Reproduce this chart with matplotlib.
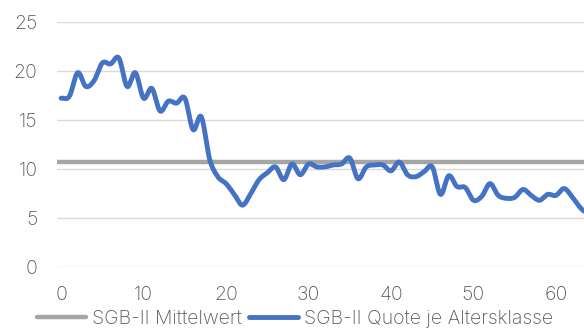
import numpy as np
import matplotlib
matplotlib.use("Agg")
import matplotlib.pyplot as plt

# SGB-II rate per age group (percent)
ages = list(range(0, 65))
quote = [17.2, 17.4, 19.8, 18.4, 19.0, 20.8, 20.7, 21.3, 18.4, 19.8,
         17.2, 18.2, 15.9, 16.9, 16.7, 17.2, 14.0, 15.3, 11.0, 9.2,
         8.5, 7.4, 6.3, 7.5, 8.9, 9.6, 10.2, 8.9, 10.5, 9.4,
         10.5, 10.2, 10.2, 10.4, 10.5, 11.1, 9.0, 10.2, 10.4, 10.4,
         9.8, 10.7, 9.4, 9.2, 9.7, 10.2, 7.4, 9.3, 8.2, 8.1,
         6.8, 7.2, 8.5, 7.3, 7.0, 7.1, 7.9, 7.3, 6.8, 7.4,
         7.3, 8.0, 7.1, 6.0, 5.3]
mittelwert = 10.7

y_ticks = [0, 5, 10, 15, 20, 25]
x_ticks = [0, 10, 20, 30, 40, 50, 60]

label_mittel = "SGB-II Mittelwert"
label_quote = "SGB-II Quote je Altersklasse"


def smooth(x, y, n=20):
    """Catmull-Rom style smoothing through every point."""
    x = np.asarray(x, float)
    y = np.asarray(y, float)
    xp = np.concatenate([[2 * x[0] - x[1]], x, [2 * x[-1] - x[-2]]])
    yp = np.concatenate([[2 * y[0] - y[1]], y, [2 * y[-1] - y[-2]]])
    xs, ys = [], []
    t = np.linspace(0, 1, n, endpoint=False)
    for i in range(1, len(xp) - 2):
        p0, p1, p2, p3 = yp[i - 1], yp[i], yp[i + 1], yp[i + 2]
        q0, q1, q2, q3 = xp[i - 1], xp[i], xp[i + 1], xp[i + 2]
        k = 1 / 6
        c1y, c2y = p1 + (p2 - p0) * k, p2 - (p3 - p1) * k
        c1x, c2x = q1 + (q2 - q0) * k, q2 - (q3 - q1) * k
        b0 = (1 - t) ** 3
        b1 = 3 * (1 - t) ** 2 * t
        b2 = 3 * (1 - t) * t ** 2
        b3 = t ** 3
        xs.append(b0 * q1 + b1 * c1x + b2 * c2x + b3 * q2)
        ys.append(b0 * p1 + b1 * c1y + b2 * c2y + b3 * p2)
    xs.append([x[-1]])
    ys.append([y[-1]])
    return np.concatenate(xs), np.concatenate(ys)


plt.rcParams["font.family"] = ["Inter", "DejaVu Sans"]
text_color = "#595959"
fs = 14

fig = plt.figure(figsize=(5.84, 3.28), dpi=100)
ax = fig.add_axes([57 / 584, 61 / 328, 1 - 57 / 584, 245.3 / 328])

for v in y_ticks:
    ax.axhline(v, color="#d9d9d9", lw=1.0, zorder=1)

ax.axhline(mittelwert, color="#a5a5a5", lw=3.2, solid_capstyle="round",
           zorder=2, label=label_mittel)
sx, sy = smooth(ages, quote)
ax.plot(sx, sy, color="#4472c4", lw=3.5, solid_capstyle="round",
        solid_joinstyle="round", zorder=3, label=label_quote)

ax.set_xlim(-0.5, 63.4)
ax.set_ylim(0, 25)
ax.set_yticks(y_ticks)
ax.set_xticks(x_ticks)
for s in ax.spines.values():
    s.set_visible(False)
ax.tick_params(axis="both", length=0, labelsize=fs, labelcolor=text_color)
ax.tick_params(axis="y", pad=14)
ax.tick_params(axis="x", pad=14)
for lab in ax.get_xticklabels() + ax.get_yticklabels():
    lab.set_fontweight("light")

leg = fig.legend(loc="center", bbox_to_anchor=(295 / 584, 1 - 319 / 328),
                 ncol=2, frameon=False, fontsize=fs, handlelength=2.5,
                 handletextpad=0.3, columnspacing=0.4, borderpad=0,
                 borderaxespad=0)
for t in leg.get_texts():
    t.set_color(text_color)
    t.set_fontweight("light")

fig.savefig("out.png", dpi=100)
